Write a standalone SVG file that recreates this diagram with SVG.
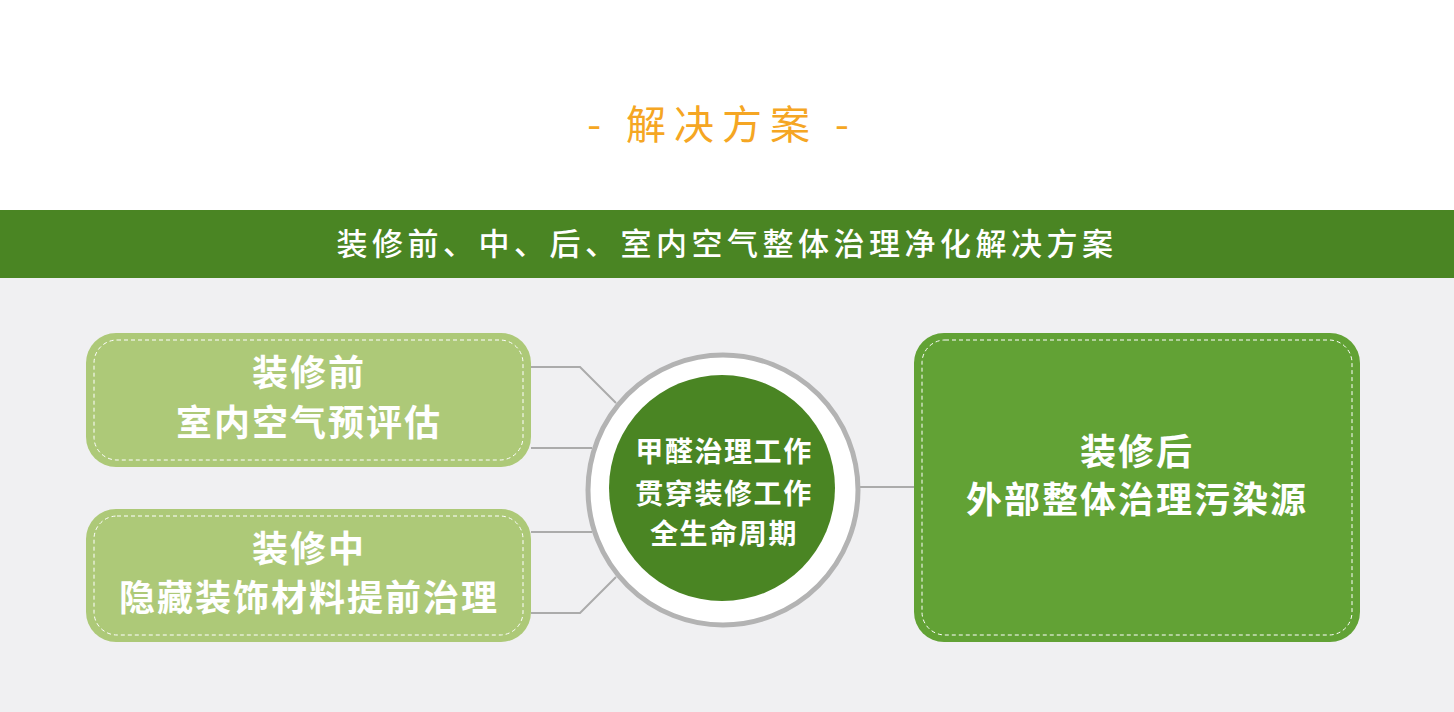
<svg xmlns="http://www.w3.org/2000/svg" width="1454" height="712" viewBox="0 0 1454 712">
<style>
.t{font-family:"Noto Sans CJK SC","Noto Sans",sans-serif;fill:#fff;text-anchor:middle}
.b{font-weight:700;font-size:36px;letter-spacing:2px}
.c{font-weight:700;font-size:28px;letter-spacing:1.6px}
.dash{fill:none;stroke:#fff;stroke-width:1;stroke-dasharray:4 3}
.conn{fill:none;stroke:#ababab;stroke-width:2}
</style>
<rect x="0" y="0" width="1454" height="712" fill="#fff"/>
<rect x="0" y="278" width="1454" height="434" fill="#f0f0f2"/>
<g id="title">
<text x="722" y="139" style="font-family:'Noto Sans CJK SC',sans-serif;font-size:40px;fill:#f5a623;text-anchor:middle;letter-spacing:8px">- 解决方案 -</text>
</g>
<g id="banner">
<rect x="0" y="210" width="1454" height="68" fill="#4a8523"/>
<text class="t" x="727" y="255" style="font-size:31px;font-weight:500;letter-spacing:4.5px">装修前、中、后、室内空气整体治理净化解决方案</text>
</g>
<g id="connectors">
<polyline class="conn" points="531,367 580,367 616,403"/>
<polyline class="conn" points="531,448 592,448"/>
<polyline class="conn" points="531,532 592,532"/>
<polyline class="conn" points="531,613 580,613 616,577"/>
<polyline class="conn" points="858,487 914,487"/>
</g>
<g id="box-before">
<rect x="86" y="333" width="445" height="134" rx="30" fill="#adc978"/>
<rect class="dash" x="94" y="340" width="429" height="120" rx="23"/>
<text class="t b" x="309" y="386">装修前</text>
<text class="t b" x="309" y="436">室内空气预评估</text>
</g>
<g id="box-during">
<rect x="86" y="509" width="445" height="133" rx="30" fill="#adc978"/>
<rect class="dash" x="94" y="516" width="429" height="119" rx="23"/>
<text class="t b" x="309" y="562">装修中</text>
<text class="t b" x="309" y="611">隐藏装饰材料提前治理</text>
</g>
<g id="box-after">
<rect x="914" y="333" width="446" height="309" rx="30" fill="#62a235"/>
<rect class="dash" x="922" y="340" width="430" height="295" rx="23"/>
<text class="t b" x="1137" y="465">装修后</text>
<text class="t b" x="1137" y="513">外部整体治理污染源</text>
</g>
<g id="center">
<circle cx="723" cy="490" r="135" fill="#fff" stroke="#b3b3b3" stroke-width="5"/>
<circle cx="722" cy="488" r="113" fill="#4a8523"/>
<text class="t c" x="724" y="462">甲醛治理工作</text>
<text class="t c" x="724" y="504">贯穿装修工作</text>
<text class="t c" x="724" y="544">全生命周期</text>
</g>
</svg>
